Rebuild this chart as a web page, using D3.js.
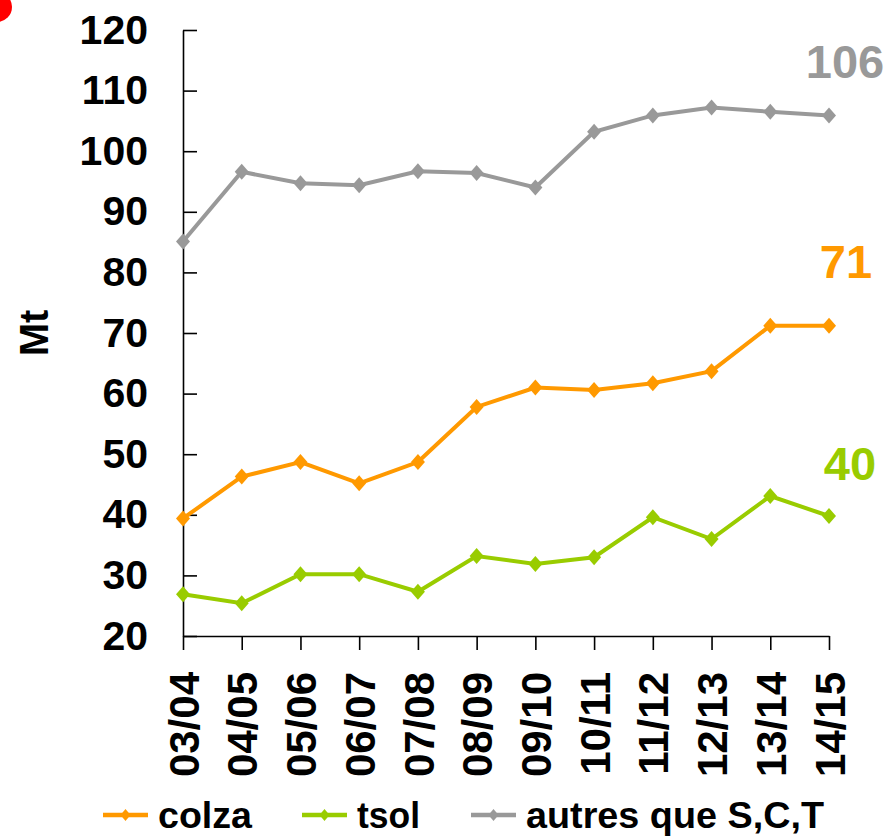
<!DOCTYPE html>
<html>
<head>
<meta charset="utf-8">
<script src="https://cdn.jsdelivr.net/npm/d3@7"></script>
<style>
  body { margin: 0; background: #fff; }
  svg { display: block; font-family: "Liberation Sans", Arial, sans-serif; font-weight: bold; }
</style>
</head>
<body>
<script>
var campagnes = ["03/04", "04/05", "05/06", "06/07", "07/08", "08/09", "09/10", "10/11", "11/12", "12/13", "13/14", "14/15"];
var colza = [39.4, 46.3, 48.7, 45.2, 48.7, 57.8, 61.0, 60.6, 61.7, 63.7, 71.2, 71.2];
var tsol = [26.9, 25.4, 30.2, 30.2, 27.3, 33.2, 31.9, 33.0, 39.6, 36.0, 43.1, 39.8];
var autres = [85.1, 96.6, 94.7, 94.4, 96.7, 96.4, 94.0, 103.2, 105.9, 107.2, 106.5, 105.9];
var yTicks = [20, 30, 40, 50, 60, 70, 80, 90, 100, 110, 120];
var seriesNames = ["colza", "tsol", "autres que S,C,T"];
var endLabels = ["71", "40", "106"];

var colors = ["#FF9900", "#99CC00", "#999999"];
var series = [colza, tsol, autres];

var svg = d3.select("body").append("svg")
  .attr("width", 891)
  .attr("height", 836);

// red dot cut off in the corner
svg.append("circle").attr("cx", -3).attr("cy", 7).attr("r", 15).attr("fill", "#ff0000");

var x = d3.scalePoint().domain(campagnes).range([183, 829]);
var y = d3.scaleLinear().domain([20, 120]).range([636, 30]);

var yAxis = svg.append("g")
  .attr("transform", "translate(183,0)")
  .call(d3.axisLeft(y).tickValues(yTicks).tickSizeInner(-14).tickSizeOuter(0).tickPadding(35));
yAxis.selectAll("text").attr("font-size", 41).attr("font-family", "Liberation Sans, Arial").attr("font-weight", "bold").attr("fill", "#000");

var xAxis = svg.append("g")
  .attr("transform", "translate(0,636)")
  .call(d3.axisBottom(x).tickSizeInner(14).tickSizeOuter(0));
xAxis.selectAll("text")
  .attr("font-size", 42)
  .attr("font-family", "Liberation Sans, Arial")
  .attr("font-weight", "bold")
  .attr("fill", "#000")
  .attr("text-anchor", "end")
  .attr("transform", "translate(0,36) rotate(-90)")
  .attr("x", 0).attr("y", 0).attr("dy", "0.36em");

svg.selectAll(".domain, .tick line").attr("stroke", "#000").attr("stroke-width", 1.6);

svg.append("text")
  .attr("transform", "translate(48,333) rotate(-90)")
  .attr("text-anchor", "middle")
  .attr("font-size", 40)
  .text("Mt");

var line = d3.line()
  .x(function(d, i) { return x(campagnes[i]); })
  .y(function(d) { return y(d); });

function diamond(cx, cy, w, h) {
  return "M" + cx + "," + (cy - h) + "L" + (cx + w) + "," + cy + "L" + cx + "," + (cy + h) + "L" + (cx - w) + "," + cy + "Z";
}

// draw grey first, then orange, then green
[2, 0, 1].forEach(function(s) {
  svg.append("path")
    .datum(series[s])
    .attr("fill", "none")
    .attr("stroke", colors[s])
    .attr("stroke-width", 4)
    .attr("d", line);
  svg.selectAll(".m" + s)
    .data(series[s])
    .enter()
    .append("path")
    .attr("class", "m" + s)
    .attr("fill", colors[s])
    .attr("d", function(d, i) { return diamond(x(campagnes[i]), y(d), 7, 8); });
});

// end labels
var labelPos = [[846, 278], [850, 480], [845, 78]];
endLabels.forEach(function(t, i) {
  svg.append("text")
    .attr("x", labelPos[i][0]).attr("y", labelPos[i][1])
    .attr("text-anchor", "middle")
    .attr("font-size", 47)
    .attr("fill", colors[i])
    .text(t);
});

// legend
var legendX = [103, 302, 471];
var legendLen = [94, 63, 298];
seriesNames.forEach(function(n, i) {
  var g = svg.append("g").attr("transform", "translate(" + legendX[i] + ",815)");
  g.append("line").attr("x1", 0).attr("x2", 45).attr("stroke", colors[i]).attr("stroke-width", 4.5);
  g.append("path").attr("fill", colors[i]).attr("d", diamond(22.5, 0, 5, 6));
  g.append("text")
    .attr("x", 55).attr("y", 13)
    .attr("font-size", 37)
    .attr("textLength", legendLen[i])
    .attr("lengthAdjust", "spacingAndGlyphs")
    .attr("fill", "#000")
    .text(n);
});
</script>
</body>
</html>
